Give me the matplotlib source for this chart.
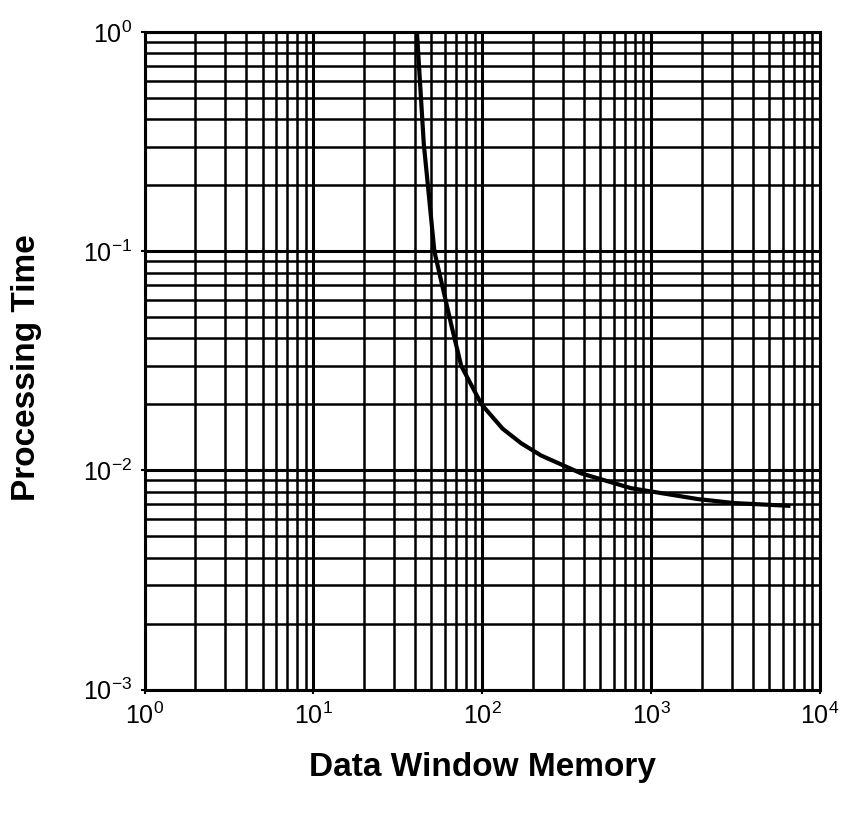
import matplotlib
matplotlib.use("Agg")
import matplotlib.pyplot as plt
import numpy as np

# Data (log-log curve)
memory = [41, 45, 52, 66, 75, 99, 132, 170, 223, 385, 760, 1900, 3100, 6500]
proc_time = [1.0, 0.31, 0.1, 0.045, 0.030, 0.020, 0.0155, 0.0133, 0.0117, 0.0097, 0.0083, 0.0074, 0.0071, 0.0069]

x_label = "Data Window Memory"
y_label = "Processing Time"

plt.rcParams['font.family'] = ['Liberation Sans', 'DejaVu Sans']
plt.rcParams['mathtext.fontset'] = 'custom'
plt.rcParams['mathtext.rm'] = 'Liberation Sans'
plt.rcParams['mathtext.it'] = 'Liberation Sans'
plt.rcParams['mathtext.bf'] = 'Liberation Sans:bold'

fig = plt.figure(figsize=(8.41, 8.22), dpi=100)
ax = fig.add_axes([0.172, 0.161, 0.803, 0.800])

ax.set_xscale('log')
ax.set_yscale('log')
ax.set_xlim(1, 1e4)
ax.set_ylim(1e-3, 1)

ax.plot(memory, proc_time, color='black', lw=3, zorder=5)

ax.grid(True, which='major', color='black', lw=2.2)
ax.grid(True, which='minor', color='black', lw=1.8)
for s in ax.spines.values():
    s.set_linewidth(2.2)

ax.tick_params(which='both', direction='out', length=3, width=1.5, labelsize=18, pad=6)
ax.tick_params(which='minor', length=0)

ax.set_xlabel(x_label, fontsize=24, fontweight='bold')
ax.set_ylabel(y_label, fontsize=24, fontweight='bold')
ax.xaxis.set_label_coords(0.5, -0.095)
ax.yaxis.set_label_coords(-0.152, 0.49)

fig.savefig("out.png", dpi=100, facecolor='white')
